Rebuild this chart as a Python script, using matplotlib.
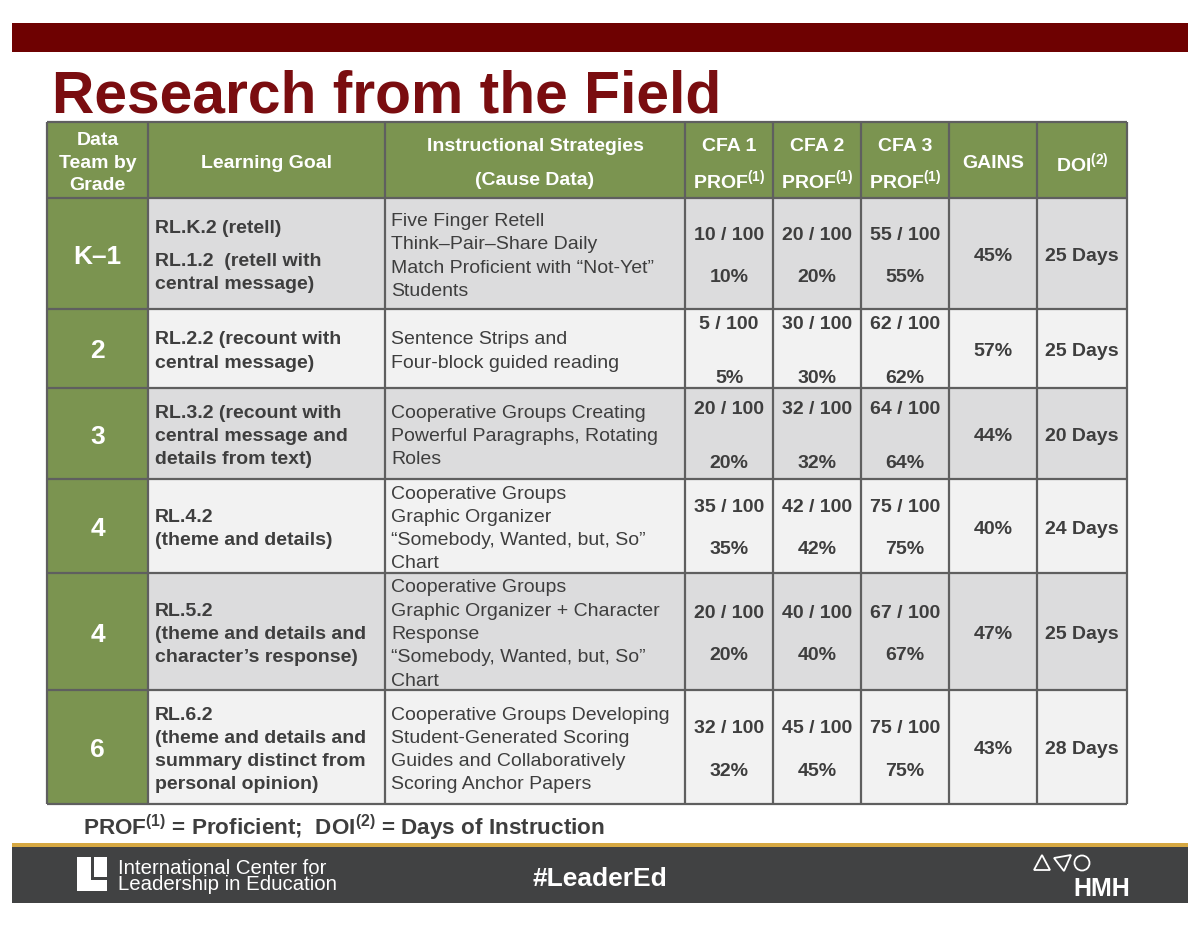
import matplotlib
matplotlib.use("Agg")
from matplotlib import pyplot as plt
from matplotlib.patches import Rectangle, Polygon, Circle

plt.rcParams['font.family'] = ['Liberation Sans', 'DejaVu Sans']
plt.rcParams['mathtext.fontset'] = 'custom'
plt.rcParams['mathtext.rm'] = 'Liberation Sans:bold'
plt.rcParams['mathtext.it'] = 'Liberation Sans:bold'
plt.rcParams['mathtext.bf'] = 'Liberation Sans:bold'

# --- table content ---
grades = ["K–1", "2", "3", "4", "4", "6"]
goals = [
    "RL.K.2 (retell)\n\nRL.1.2  (retell with\ncentral message)",
    "RL.2.2 (recount with\ncentral message)",
    "RL.3.2 (recount with\ncentral message and\ndetails from text)",
    "RL.4.2\n(theme and details)",
    "RL.5.2\n(theme and details and\ncharacter’s response)",
    "RL.6.2\n(theme and details and\nsummary distinct from\npersonal opinion)",
]
strategies = [
    "Five Finger Retell\nThink–Pair–Share Daily\nMatch Proficient with “Not-Yet”\nStudents",
    "Sentence Strips and\nFour-block guided reading",
    "Cooperative Groups Creating\nPowerful Paragraphs, Rotating\nRoles",
    "Cooperative Groups\nGraphic Organizer\n“Somebody, Wanted, but, So”\nChart",
    "Cooperative Groups\nGraphic Organizer + Character\nResponse\n“Somebody, Wanted, but, So”\nChart",
    "Cooperative Groups Developing\nStudent-Generated Scoring\nGuides and Collaboratively\nScoring Anchor Papers",
]
cfa1_prof = [10, 5, 20, 35, 20, 32]
cfa2_prof = [20, 30, 32, 42, 40, 45]
cfa3_prof = [55, 62, 64, 75, 67, 75]
students = 100
gains = [45, 57, 44, 40, 47, 43]
doi_days = [25, 25, 20, 24, 25, 28]

header_labels = ["Data\nTeam by\nGrade", "Learning Goal",
                 "Instructional Strategies\n(Cause Data)",
                 "CFA 1\nPROF$^{(1)}$", "CFA 2\nPROF$^{(1)}$", "CFA 3\nPROF$^{(1)}$",
                 "GAINS", "DOI$^{(2)}$"]

# layout (pixels)
col_edges = [47, 148, 385, 685, 773, 861, 949, 1037, 1127]
row_edges = [122, 198, 309, 388, 479, 573, 690, 804]
cfa_gap = [43, 54, 54, 42, 43, 43]
dy = 3  # va="center" sits a little high, nudge down

maroon = "#6e0101"
title_red = "#7a0d10"
green = "#7b9450"
dark_row = "#dcdcdd"
light_row = "#f2f2f2"
txt = "#3e3e3e"
grid = "#5f5f5f"

fig = plt.figure(figsize=(12, 9.27), dpi=100)
ax = fig.add_axes([0, 0, 1, 1])
ax.set_xlim(0, 1200)
ax.set_ylim(927, 0)
ax.axis("off")

# top bar + title
ax.add_patch(Rectangle((12, 23), 1176, 29, color=maroon, lw=0))
ax.text(52, 112, "Research from the Field", fontsize=42.3, fontweight="bold",
        color=title_red, va="baseline", ha="left")


def draw_lines(x, yc, s, ha, **kw):
    lines = s.split("\n")
    step = 23.3
    offs = []
    y = 0
    for ln in lines:
        if ln == "":
            y += 10
            continue
        offs.append((ln, y))
        y += step
    total = offs[-1][1]
    for ln, o in offs:
        ax.text(x, yc - total / 2 + o + dy, ln, ha=ha, va="center", **kw)


# header
ax.add_patch(Rectangle((col_edges[0], row_edges[0]), col_edges[-1] - col_edges[0],
                       row_edges[1] - row_edges[0], color=green, lw=0))
hy = (row_edges[0] + row_edges[1]) / 2 + dy
for j, lab in enumerate(header_labels):
    xc = (col_edges[j] + col_edges[j + 1]) / 2
    lines = lab.split("\n")
    if len(lines) == 3:
        for k, ln in enumerate(lines):
            ax.text(xc, hy - 22.5 + 22.5 * k, ln, ha="center", va="center",
                    fontsize=14, fontweight="bold", color="white")
    elif len(lines) == 2:
        for k, ln in enumerate(lines):
            ax.text(xc, hy - 17 + 34 * k, ln, ha="center", va="center",
                    fontsize=14, fontweight="bold", color="white")
    else:
        ax.text(xc, hy, lab, ha="center", va="center",
                fontsize=14, fontweight="bold", color="white")

# body rows
for i in range(len(grades)):
    y0, y1 = row_edges[i + 1], row_edges[i + 2]
    yc = (y0 + y1) / 2
    fill = dark_row if i % 2 == 0 else light_row
    ax.add_patch(Rectangle((col_edges[0], y0), col_edges[1] - col_edges[0], y1 - y0,
                           color=green, lw=0))
    ax.add_patch(Rectangle((col_edges[1], y0), col_edges[-1] - col_edges[1], y1 - y0,
                           color=fill, lw=0))
    ax.text((col_edges[0] + col_edges[1]) / 2, yc + dy, grades[i], ha="center",
            va="center", fontsize=19, fontweight="bold", color="white")
    draw_lines(col_edges[1] + 7, yc, goals[i], "left",
               fontsize=14, fontweight="bold", color=txt)
    draw_lines(col_edges[2] + 6, yc, strategies[i], "left",
               fontsize=14, color=txt)
    for j, vals in enumerate([cfa1_prof, cfa2_prof, cfa3_prof]):
        xc = (col_edges[3 + j] + col_edges[4 + j]) / 2
        v = vals[i]
        ax.text(xc, yc - cfa_gap[i] / 2 + dy, f"{v} / {students}", ha="center",
                va="center", fontsize=14, fontweight="bold", color=txt)
        ax.text(xc, yc + cfa_gap[i] / 2 + dy, f"{round(v / students * 100)}%",
                ha="center", va="center", fontsize=14, fontweight="bold", color=txt)
    ax.text((col_edges[6] + col_edges[7]) / 2, yc + dy, f"{gains[i]}%", ha="center",
            va="center", fontsize=14, fontweight="bold", color=txt)
    ax.text((col_edges[7] + col_edges[8]) / 2, yc + dy, f"{doi_days[i]} Days",
            ha="center", va="center", fontsize=14, fontweight="bold", color=txt)

# grid lines
ax.vlines(col_edges, row_edges[0], row_edges[-1], color=grid, lw=1.6)
ax.hlines(row_edges, col_edges[0], col_edges[-1], color=grid, lw=1.6)

# footnote
ax.text(83, 835, "PROF$^{(1)}$ = Proficient;  DOI$^{(2)}$ = Days of Instruction",
        fontsize=16.2, fontweight="bold", color=txt, va="baseline", ha="left")

# footer
ax.add_patch(Rectangle((12, 843), 1176, 4, color="#d6a842", lw=0))
ax.add_patch(Rectangle((12, 847), 1176, 56, color="#414243", lw=0))
# L logo
ax.add_patch(Rectangle((77, 857), 30, 34, color="white", lw=0))
ax.add_patch(Rectangle((91, 857), 2.5, 22, color="#414243", lw=0))
ax.add_patch(Rectangle((91, 877), 16, 2.5, color="#414243", lw=0))
ax.text(118, 868, "International Center for", fontsize=14.7, color="white",
        ha="left", va="center")
ax.text(118, 885, "Leadership in Education", fontsize=14.7, color="white",
        ha="left", va="center")
ax.text(600, 879, "#LeaderEd", fontsize=19, fontweight="bold", color="white",
        ha="center", va="center")
# HMH logo
ax.add_patch(Polygon([(1034, 870), (1042, 855), (1050, 870)], closed=True,
                     fill=False, ec="white", lw=1.3))
ax.add_patch(Polygon([(1054, 858), (1071, 855), (1064, 871)], closed=True,
                     fill=False, ec="white", lw=1.3))
ax.add_patch(Circle((1082, 863), 7.5, fill=False, ec="white", lw=1.3))
ax.text(1102, 889, "HMH", fontsize=18, fontweight="bold", color="white",
        ha="center", va="center")

fig.savefig("out.png", dpi=100)
